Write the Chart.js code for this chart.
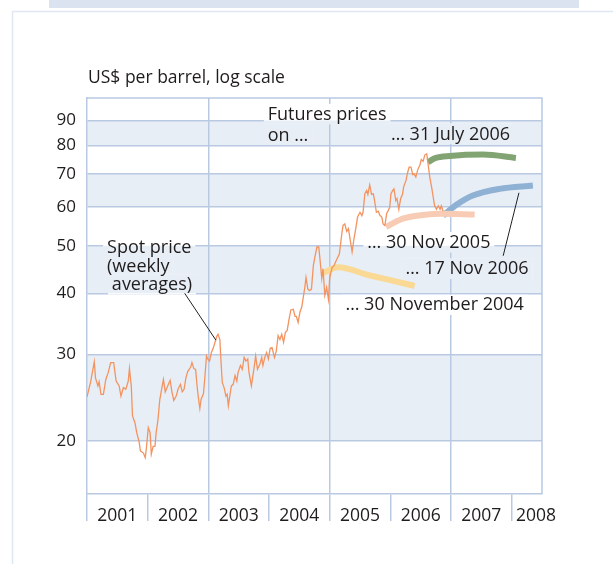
<!DOCTYPE html>
<html>
<head>
<meta charset="utf-8">
<script src="https://cdn.jsdelivr.net/npm/chart.js@4.4.1/dist/chart.umd.min.js"></script>
<style>
  html, body { margin: 0; padding: 0; background: #fff; }
  canvas { display: block; }
</style>
</head>
<body>
<canvas id="oil-chart" width="613" height="564"></canvas>
<script>
// weekly spot price, US$ per barrel
const spotYears = [
  2001.00, 2001.06, 2001.12, 2001.14, 2001.18, 2001.20, 2001.23, 2001.27, 2001.31, 2001.35,
  2001.39, 2001.44, 2001.48, 2001.53, 2001.56, 2001.60, 2001.64, 2001.68, 2001.70, 2001.73,
  2001.75, 2001.79, 2001.82, 2001.86, 2001.88, 2001.93, 2001.96, 2001.98, 2002.01, 2002.04,
  2002.06, 2002.09, 2002.12, 2002.14, 2002.17, 2002.20, 2002.24, 2002.26, 2002.29, 2002.32,
  2002.37, 2002.40, 2002.43, 2002.47, 2002.50, 2002.54, 2002.57, 2002.60, 2002.63, 2002.66,
  2002.71, 2002.73, 2002.76, 2002.79, 2002.82, 2002.84, 2002.86, 2002.88, 2002.92, 2002.94,
  2002.97, 2002.99, 2003.02, 2003.05, 2003.08, 2003.11, 2003.14, 2003.16, 2003.19, 2003.21,
  2003.23, 2003.26, 2003.29, 2003.31, 2003.33, 2003.36, 2003.38, 2003.41, 2003.44, 2003.47,
  2003.49, 2003.53, 2003.56, 2003.59, 2003.62, 2003.65, 2003.67, 2003.71, 2003.75, 2003.78,
  2003.81, 2003.85, 2003.88, 2003.90, 2003.93, 2003.96, 2003.99, 2004.02, 2004.05, 2004.09,
  2004.12, 2004.15, 2004.18, 2004.21, 2004.24, 2004.27, 2004.30, 2004.33, 2004.36, 2004.40,
  2004.43, 2004.45, 2004.48, 2004.51, 2004.54, 2004.57, 2004.59, 2004.61, 2004.64, 2004.67,
  2004.70, 2004.73, 2004.76, 2004.79, 2004.82, 2004.84, 2004.87, 2004.89, 2004.92, 2004.95,
  2004.98, 2005.00, 2005.04, 2005.07, 2005.11, 2005.16, 2005.20, 2005.22, 2005.25, 2005.28,
  2005.31, 2005.34, 2005.37, 2005.40, 2005.43, 2005.46, 2005.50, 2005.53, 2005.55, 2005.58,
  2005.61, 2005.63, 2005.66, 2005.69, 2005.72, 2005.74, 2005.77, 2005.80, 2005.83, 2005.86,
  2005.88, 2005.91, 2005.94, 2005.96, 2005.99, 2006.01, 2006.04, 2006.06, 2006.09, 2006.11,
  2006.14, 2006.17, 2006.20, 2006.22, 2006.26, 2006.28, 2006.31, 2006.34, 2006.37, 2006.39,
  2006.42, 2006.45, 2006.49, 2006.51, 2006.54, 2006.57, 2006.60, 2006.62, 2006.65, 2006.68,
  2006.71, 2006.73, 2006.76, 2006.79, 2006.82, 2006.84, 2006.87
];
const spotValues = [
  24.6, 26.4, 29.0, 26.9, 25.9, 26.4, 24.9, 24.9, 26.7, 27.6,
  28.9, 28.9, 26.5, 25.9, 24.7, 25.7, 25.5, 26.5, 28.1, 25.9,
  22.5, 21.8, 20.8, 19.9, 19.1, 18.9, 18.5, 19.4, 21.3, 20.8,
  18.8, 19.5, 19.5, 20.8, 22.1, 24.3, 25.9, 26.7, 25.2, 25.7,
  26.6, 25.2, 24.2, 24.7, 25.5, 26.1, 25.2, 25.5, 26.9, 27.7,
  28.3, 28.9, 28.1, 28.0, 25.5, 24.3, 23.3, 24.3, 25.0, 26.7,
  29.8, 29.4, 29.1, 30.3, 30.9, 31.8, 32.7, 33.0, 32.2, 28.9,
  26.3, 25.7, 24.7, 24.9, 23.6, 25.0, 25.9, 26.1, 27.2, 26.5,
  27.6, 28.5, 28.0, 29.6, 29.1, 29.4, 27.6, 25.9, 28.0, 29.8,
  28.0, 28.7, 29.6, 28.5, 29.6, 30.3, 29.4, 30.9, 31.0, 29.6,
  30.5, 32.8, 32.2, 33.0, 31.8, 33.3, 33.6, 35.4, 37.0, 37.1,
  35.9, 35.9, 34.9, 36.6, 37.5, 39.6, 41.1, 43.1, 40.8, 40.5,
  40.8, 45.5, 47.7, 49.7, 49.7, 47.0, 42.9, 44.9, 39.6, 41.1,
  38.9, 42.9, 45.2, 45.5, 46.7, 48.1, 52.9, 55.0, 55.4, 53.5,
  54.2, 51.2, 48.6, 51.6, 54.2, 57.2, 58.5, 57.6, 58.5, 63.8,
  64.8, 63.6, 66.5, 63.6, 63.8, 61.8, 58.5, 58.8, 57.6, 57.2,
  55.4, 55.0, 58.2, 58.8, 59.9, 63.8, 64.8, 65.3, 61.8, 62.4,
  59.3, 62.4, 63.6, 65.9, 68.0, 70.1, 72.3, 72.3, 69.8, 70.1,
  69.0, 71.3, 73.2, 74.9, 74.3, 76.6, 77.0, 73.7, 69.0, 65.9,
  62.4, 60.3, 59.3, 60.3, 59.3, 60.3, 58.8
];

// futures curves
const fut2004Years = [2004.89, 2005.14, 2005.66, 2006.05, 2006.40];
const fut2004Values = [44.0, 45.2, 43.5, 42.4, 41.4];
const fut2005Years = [2005.93, 2006.16, 2006.38, 2006.82, 2007.39];
const fut2005Values = [54.6, 56.5, 57.4, 58.1, 57.9];
const futJul2006Years = [2006.62, 2006.75, 2006.98, 2007.53, 2008.07];
const futJul2006Values = [74.0, 75.5, 76.2, 76.7, 75.5];
const futNov2006Years = [2006.87, 2007.09, 2007.36, 2007.80, 2008.35];
const futNov2006Values = [57.6, 60.6, 63.3, 65.3, 66.3];

// axes
const yearLabels = ['2001', '2002', '2003', '2004', '2005', '2006', '2007', '2008'];
const yTickValues = [20, 30, 40, 50, 60, 70, 80, 90];
const shadedBands = [[20, 30], [40, 50], [60, 70], [80, 90]];
const yearLinesThroughPlot = [2003, 2005, 2007];
const xMin = 2001, xMax = 2008.5;
const yMin = 15.6, yMax = 100;

const gridColor = '#b9c9e2';
const bandColor = '#e8eef6';
const textColor = '#1f1c1d';
const font = "'Open Sans', sans-serif";
const noteSize = 18;

const notes = [
  { text: 'Futures prices', year: 2003.98, value: 90.3 },
  { text: 'on …', year: 2003.98, value: 81.9 },
  { text: '… 31 July 2006', year: 2006.01, value: 82.3 },
  { text: '… 30 Nov 2005', year: 2005.62, value: 49.5 },
  { text: '… 17 Nov 2006', year: 2006.25, value: 43.7 },
  { text: '… 30 November 2004', year: 2005.26, value: 36.9 },
  { text: 'Spot price', year: 2001.33, value: 48.4 },
  { text: '(weekly', year: 2001.33, value: 44.2 },
  { text: 'averages)', year: 2001.41, value: 40.6 }
];
const leaders = [
  { from: [2002.61, 40.0], to: [2003.125, 32.1] },
  { from: [2007.86, 47.7], to: [2008.12, 64.1] }
];

function toPoints(xs, ys) {
  return xs.map((x, i) => ({ x: x, y: ys[i] }));
}

function fillBands(ctx, chart) {
  const area = chart.chartArea;
  const y = chart.scales.y;
  ctx.fillStyle = bandColor;
  shadedBands.forEach(([lo, hi]) => {
    const top = y.getPixelForValue(hi);
    const bottom = y.getPixelForValue(lo);
    ctx.fillRect(area.left, top, area.right - area.left, bottom - top);
  });
}

function noteBox(ctx, chart, note) {
  ctx.font = noteSize + 'px ' + font;
  const x = chart.scales.x.getPixelForValue(note.year);
  const y = chart.scales.y.getPixelForValue(note.value);
  const w = ctx.measureText(note.text).width;
  return { x: x, y: y, left: x - 4, top: y - 16, width: w + 8, height: 20.5 };
}

const decorPlugin = {
  id: 'decor',
  beforeDraw(chart) {
    const ctx = chart.ctx;
    ctx.save();
    // page frame
    ctx.fillStyle = '#dae3ef';
    ctx.fillRect(49, 0, 530, 8);
    ctx.strokeStyle = '#dfe7f1';
    ctx.lineWidth = 1.5;
    ctx.beginPath();
    ctx.moveTo(613, 11.5);
    ctx.lineTo(12.5, 11.5);
    ctx.lineTo(12.5, 564);
    ctx.stroke();
    fillBands(ctx, chart);
    // axis title
    ctx.fillStyle = textColor;
    ctx.font = '17.5px ' + font;
    ctx.textBaseline = 'alphabetic';
    ctx.fillText('US$ per barrel, log scale', chart.chartArea.left + 1, chart.chartArea.top - 15);
    ctx.restore();
  },
  beforeDatasetsDraw(chart) {
    const ctx = chart.ctx;
    const area = chart.chartArea;
    ctx.save();
    // text boxes interrupt the grid lines
    notes.forEach(note => {
      const b = noteBox(ctx, chart, note);
      ctx.save();
      ctx.beginPath();
      ctx.rect(b.left, b.top, b.width, b.height);
      ctx.clip();
      ctx.fillStyle = '#fff';
      ctx.fillRect(b.left, b.top, b.width, b.height);
      fillBands(ctx, chart);
      ctx.restore();
    });
    // top and right frame of the plot
    ctx.strokeStyle = gridColor;
    ctx.lineWidth = 1.5;
    ctx.beginPath();
    ctx.moveTo(area.left, area.top);
    ctx.lineTo(area.right, area.top);
    ctx.lineTo(area.right, area.bottom);
    ctx.stroke();
    ctx.restore();
  },
  afterDatasetsDraw(chart) {
    const ctx = chart.ctx;
    const xs = chart.scales.x, ys = chart.scales.y;
    ctx.save();
    ctx.fillStyle = textColor;
    ctx.textBaseline = 'alphabetic';
    notes.forEach(note => {
      const b = noteBox(ctx, chart, note);
      ctx.fillText(note.text, b.x, b.y);
    });
    ctx.strokeStyle = '#222';
    ctx.lineWidth = 1;
    leaders.forEach(l => {
      ctx.beginPath();
      ctx.moveTo(xs.getPixelForValue(l.from[0]), ys.getPixelForValue(l.from[1]));
      ctx.lineTo(xs.getPixelForValue(l.to[0]), ys.getPixelForValue(l.to[1]));
      ctx.stroke();
    });
    ctx.restore();
  }
};

const yearTicks = yearLabels.map(Number);
const labelTicks = yearTicks.map(y => Math.min(y + 0.5, xMax - 0.1));
const xTicks = yearTicks.concat(labelTicks).sort((a, b) => a - b);

function futureLine(xs, ys, color) {
  return {
    data: toPoints(xs, ys),
    borderColor: color,
    borderWidth: 6,
    pointRadius: 0,
    cubicInterpolationMode: 'monotone',
    order: 2
  };
}

const ctx = document.getElementById('oil-chart').getContext('2d');
new Chart(ctx, {
  type: 'line',
  data: {
    datasets: [
      futureLine(fut2004Years, fut2004Values, '#f9d993'),
      futureLine(fut2005Years, fut2005Values, '#f8cbb4'),
      futureLine(futJul2006Years, futJul2006Values, '#82a473'),
      futureLine(futNov2006Years, futNov2006Values, '#8fb1d3'),
      {
        data: toPoints(spotYears, spotValues),
        borderColor: '#f4935f',
        borderWidth: 1.3,
        pointRadius: 0,
        tension: 0,
        order: 1
      }
    ]
  },
  options: {
    responsive: false,
    animation: false,
    layout: { padding: { top: 98, right: 71, left: 0, bottom: 0 } },
    plugins: { legend: { display: false }, tooltip: { enabled: false } },
    scales: {
      x: {
        type: 'linear',
        min: xMin,
        max: xMax,
        afterBuildTicks: s => { s.ticks = xTicks.map(v => ({ value: v })); },
        afterFit: s => { s.height = 70; },
        border: { display: true, color: gridColor, width: 1.5 },
        grid: {
          lineWidth: 1.5,
          color: c => (c.tick && yearLinesThroughPlot.includes(c.tick.value)) ? gridColor : 'rgba(0,0,0,0)',
          tickColor: c => (c.tick && Number.isInteger(c.tick.value)) ? gridColor : 'rgba(0,0,0,0)',
          tickLength: 27
        },
        ticks: {
          autoSkip: false,
          maxRotation: 0,
          padding: -15,
          color: textColor,
          font: { family: font, size: 17.5 },
          callback: v => Number.isInteger(v) ? '' : String(Math.floor(v))
        }
      },
      y: {
        type: 'logarithmic',
        min: yMin,
        max: yMax,
        afterBuildTicks: s => { s.ticks = yTickValues.map(v => ({ value: v })); },
        afterFit: s => { s.width = 87; },
        border: { display: true, color: gridColor, width: 1.5 },
        grid: { color: gridColor, lineWidth: 1.5, drawTicks: false },
        ticks: {
          padding: 11,
          color: textColor,
          font: { family: font, size: 17 },
          callback: v => String(v)
        }
      }
    }
  },
  plugins: [decorPlugin]
});
</script>
</body>
</html>
